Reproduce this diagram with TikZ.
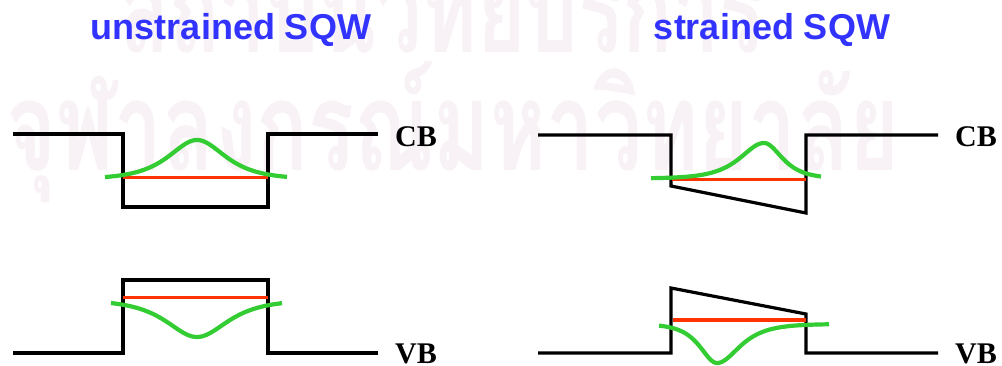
\documentclass[tikz,border=0pt]{standalone}
\usepackage{fontspec}
\setmainfont{Liberation Serif}
\setsansfont{Liberation Sans}
\newfontfamily\thaifont[Script=Thai]{Loma}
\definecolor{wmark}{RGB}{248,241,246}
\definecolor{titleblue}{RGB}{51,51,255}
\definecolor{wfgreen}{RGB}{51,204,51}
\definecolor{lvlred}{RGB}{255,51,0}
\tikzset{
  band/.style={line width=3.2pt, black, line join=miter},
  level/.style={line width=3pt, lvlred},
  wave/.style={line width=4.2pt, wfgreen, line cap=butt},
  title/.style={font=\sffamily\bfseries\fontsize{36}{40}\selectfont, text=titleblue, inner sep=0pt},
  bandlabel/.style={font=\rmfamily\bfseries\fontsize{30}{32}\selectfont, inner sep=0pt},
  wm/.style={font=\thaifont\bfseries\fontsize{80}{90}\selectfont, text=wmark, inner sep=0pt, anchor=base west}
}
\begin{document}
\begin{tikzpicture}[x=1pt,y=-1pt]
\useasboundingbox (0,0) rectangle (1002,366);
\fill[white] (0,0) rectangle (1002,366);
% watermark
\begin{scope}
\clip (0,0) rectangle (1002,366);
\node[wm] (wm1) at (119,53) {\scalebox{1}[1.45]{\resizebox{645pt}{!}{สถาบันวิทยบริการ}}};
\node[wm] (wm2) at (6,171) {\scalebox{1}[1.45]{\resizebox{893pt}{!}{จุฬาลงกรณ์มหาวิทยาลัย}}};
\end{scope}
% titles
\node[title] (t1) at (231,30) {unstrained SQW};
\node[title] (t2) at (772,30) {strained SQW};
% ---------- unstrained CB ----------
\draw[band] (13,134) -- (123,134) -- (123,207) -- (268,207) -- (268,134) -- (378,134);
\draw[level] (123,178) -- (268,178);
\draw[wave] plot[domain=105:287, samples=120] (\x, {179 - 39*2/(exp((\x-197)/25)+exp(-(\x-197)/25))});
\node[bandlabel] (cb1) at (416,137) {CB};
% ---------- unstrained VB ----------
\draw[band] (13,353) -- (123,353) -- (123,280) -- (268,280) -- (268,353) -- (378,353);
\draw[level] (123,298) -- (268,298);
\draw[wave] plot[domain=111:282, samples=120] (\x, {300 + 37*2/(exp((\x-197)/27)+exp(-(\x-197)/27))});
\node[bandlabel] (vb1) at (416,354) {VB};
% ---------- strained CB ----------
\draw[band] (538,135) -- (671,135) -- (671,186) -- (806,213) -- (806,135) -- (938,135);
\draw[level] (672,180) -- (806,180);
\draw[wave] plot[domain=651:764, samples=100] (\x, {178.5 - 35.5*2/(exp((\x-764)/21)+exp(-(\x-764)/21))})
   -- plot[domain=764:821, samples=60] (\x, {178.5 - 35.5*2/(exp((\x-764)/16)+exp(-(\x-764)/16))});
\node[bandlabel] (cb2) at (976,137) {CB};
% ---------- strained VB ----------
\draw[band] (538,353) -- (671,353) -- (671,288) -- (806,314) -- (806,353) -- (938,353);
\draw[level] (673,320) -- (806,320);
\draw[wave] plot[domain=659:717, samples=80] (\x, {324 + 39*2/(exp((\x-717)/15)+exp(-(\x-717)/15))})
   -- plot[domain=717:829, samples=100] (\x, {324 + 39*2/(exp((\x-717)/20)+exp(-(\x-717)/20))});
\node[bandlabel] (vb2) at (976,354) {VB};
\end{tikzpicture}
\end{document}
